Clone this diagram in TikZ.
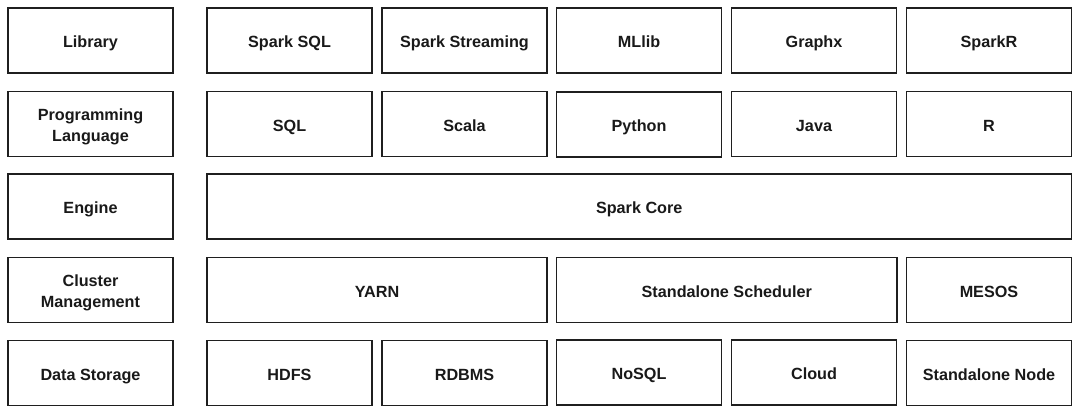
\documentclass[tikz,border=0pt]{standalone}
\usepackage{fontspec}
\setmainfont{Liberation Sans}
\begin{document}
\begin{tikzpicture}[x=1pt,y=-1pt,
  box/.style={draw=black!88, line width=1.5pt, rectangle, minimum height=65pt,
    minimum width=165pt, inner sep=0pt, align=center, text height=15pt, text depth=0pt,
    font=\fontsize{16.2}{21}\selectfont\bfseries, text=black!90},
  twoline/.style={box, text height=34.8pt, text depth=0pt},
  wide/.style={box, minimum width=#1pt}]
\useasboundingbox (0,0) rectangle (1080,414);
% row 1
\node[box] (lib) at (90.5,40.5) {Library};
\node[box] (sparksql) at (289.5,40.5) {Spark SQL};
\node[box] (streaming) at (464.5,40.5) {Spark Streaming};
\node[box] (mllib) at (639,40.5) {MLlib};
\node[box] (graphx) at (814,40.5) {Graphx};
\node[box] (sparkr) at (989,40.5) {SparkR};
% row 2
\node[twoline] (lang) at (90.5,124) {Programming\\Language};
\node[box] (sql) at (289.5,124) {SQL};
\node[box] (scala) at (464.5,124) {Scala};
\node[box] (python) at (639,124.5) {Python};
\node[box] (java) at (814,124) {Java};
\node[box] (r) at (989,124) {R};
% row 3
\node[box] (engine) at (90.5,206.5) {Engine};
\node[wide=864.5] (core) at (639.25,206.5) {Spark Core};
% row 4
\node[twoline] (cluster) at (90.5,290) {Cluster\\Management};
\node[wide=340] (yarn) at (377,290) {YARN};
\node[wide=340.5] (sched) at (726.75,290) {Standalone Scheduler};
\node[box] (mesos) at (989,290) {MESOS};
% row 5
\node[box] (storage) at (90.5,373) {Data Storage};
\node[box] (hdfs) at (289.5,373) {HDFS};
\node[box] (rdbms) at (464.5,373) {RDBMS};
\node[box] (nosql) at (639,372.5) {NoSQL};
\node[box] (cloud) at (814,372.5) {Cloud};
\node[box] (snode) at (989,373) {Standalone Node};
\end{tikzpicture}
\end{document}
